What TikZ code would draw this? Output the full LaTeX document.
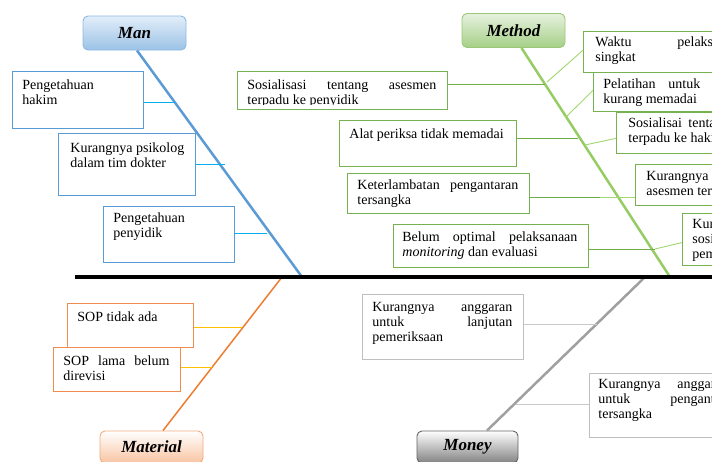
\documentclass[tikz,border=0pt]{standalone}
\usepackage{fontspec}
\setmainfont{Liberation Serif}
\usetikzlibrary{calc}
\definecolor{manC}{RGB}{91,155,213}
\definecolor{manL}{RGB}{0,176,240}
\definecolor{manT}{RGB}{226,238,249}
\definecolor{manBt}{RGB}{155,194,230}
\definecolor{manBd}{RGB}{140,185,228}
\definecolor{metC}{RGB}{150,204,100}
\definecolor{metB}{RGB}{120,178,80}
\definecolor{metL}{RGB}{112,173,71}
\definecolor{metR}{RGB}{160,215,110}
\definecolor{metT}{RGB}{230,242,222}
\definecolor{metBt}{RGB}{165,207,135}
\definecolor{metBd}{RGB}{155,200,120}
\definecolor{matC}{RGB}{237,125,49}
\definecolor{matB}{RGB}{240,140,80}
\definecolor{matL}{RGB}{255,192,0}
\definecolor{matBt}{RGB}{248,196,162}
\definecolor{matBd}{RGB}{244,170,125}
\definecolor{monC}{RGB}{160,160,160}
\definecolor{monB}{RGB}{191,191,191}
\definecolor{monL}{RGB}{200,200,200}
\definecolor{monBt}{RGB}{130,130,130}
\definecolor{monBd}{RGB}{100,100,100}
\newcommand\fs{\fontsize{14pt}{15pt}\selectfont}
\newcommand\tf{\fontsize{17pt}{19pt}\selectfont\bfseries\itshape}
% #1 width, #2 height, #3 first baseline, #4 left pad, #5 content
\newcommand\cbx[5]{\hbox to #1{\hskip#4\parbox[c][#2][t]{\dimexpr#1-#4-11pt\relax}{\fs\baselineskip=15pt\rule{0pt}{#3}#5}\hss}}
\newcommand\jl[1]{\makebox[\linewidth][s]{#1}}
\begin{document}
\begin{tikzpicture}[x=1pt,y=-1pt,
  cause/.style={fill=white,inner sep=0pt,anchor=north west,line width=0.8pt},
  mancause/.style={cause,draw=manC},
  metcause/.style={cause,draw=metB},
  matcause/.style={cause,draw=matB},
  moncause/.style={cause,draw=monB},
  titlebox/.style={rounded corners=5pt,line width=0.9pt,minimum width=103pt,minimum height=34pt,inner sep=0pt,font=\tf},
  manconn/.style={draw=manL,line width=0.9pt},
  metconnL/.style={draw=metL,line width=0.9pt},
  metconnR/.style={draw=metR,line width=0.9pt},
  matconn/.style={draw=matL,line width=0.9pt},
  monconn/.style={draw=monL,line width=0.9pt}]
\useasboundingbox (0,0) rectangle (712,461);

% title boxes
\node[titlebox,draw=manBd,top color=manT,bottom color=manBt] (man) at (134.5,33) {Man};
\node[titlebox,draw=metBd,top color=metT,bottom color=metBt] (met) at (513.5,30.5) {Method};
\node[titlebox,draw=matBd,top color=white,bottom color=matBt,minimum height=32pt] (mat) at (151.5,447) {Material};
\node[titlebox,draw=monBd,top color=white,bottom color=monBt,minimum height=32pt,minimum width=101pt] (mon) at (467.5,447) {Money};

% spine and bone ends
\coordinate (spL) at (75,277);
\coordinate (spR) at (720,277);
\coordinate (manEnd) at (302,277);
\coordinate (metEnd) at (670,277);
\coordinate (matEnd) at (282,277);
\coordinate (monEnd) at (645,277);

% bones
\draw[manC,line width=2.5pt] ([xshift=2.5pt]man.south) -- (manEnd);
\draw[metC,line width=2.5pt] ([xshift=8pt]met.south) -- (metEnd);
\draw[matC,line width=1.5pt] ([xshift=11.5pt]mat.north) -- (matEnd);
\draw[monC,line width=2.5pt] ([xshift=19.5pt]mon.north) -- (monEnd);
\draw[black,line width=4pt] (spL) -- (spR);

% Man causes
\node[mancause] (m1) at (12,71) {\cbx{131pt}{57pt}{18pt}{10pt}{\mbox{Pengetahuan}\\ \mbox{hakim}}};
\node[mancause] (m2) at (58,133) {\cbx{137pt}{62pt}{19pt}{12pt}{\mbox{Kurangnya psikolog}\\ \mbox{dalam tim dokter}}};
\node[mancause] (m3) at (103,206) {\cbx{131pt}{56pt}{16pt}{10pt}{\mbox{Pengetahuan}\\ \mbox{penyidik}}};
\coordinate (a1) at (175,102);
\coordinate (a2) at (225,164);
\coordinate (a3) at (267,233);
\draw[manconn] (m1.east |- a1) -- (a1);
\draw[manconn] (m2.east |- a2) -- (a2);
\draw[manconn] (m3.east |- a3) -- (a3);

% Method causes, left
\begin{scope}
\clip (230,60) rectangle (460,104.5);
\node[metcause] (L1) at (237,71) {\cbx{210pt}{38pt}{18pt}{10pt}{\jl{Sosialisasi tentang asesmen}\\ \mbox{terpadu ke penyidik}}};
\end{scope}
\draw[metB,line width=0.8pt] (L1.south west) rectangle (L1.north east);
\node[metcause] (L2) at (339,120) {\cbx{177pt}{46pt}{18pt}{10pt}{\mbox{Alat periksa tidak memadai}}};
\node[metcause] (L3) at (347,173) {\cbx{182pt}{40pt}{16pt}{10pt}{\jl{Keterlambatan pengantaran}\\ \mbox{tersangka}}};
\node[metcause] (L4) at (393,224) {\cbx{195pt}{43pt}{17pt}{9pt}{\jl{Belum optimal pelaksanaan}\\ \mbox{\textit{monitoring} dan evaluasi}}};
\coordinate (b1) at (545,84);
\coordinate (b2) at (578,138);
\coordinate (b3) at (618,197);
\coordinate (b4) at (655,249);
\draw[metconnL] (L1.east |- b1) -- (b1);
\draw[metconnL] (L2.east |- b2) -- (b2);
\draw[metconnL] (L3.east |- b3) -- (b3);
\draw[metconnL] (L4.east |- b4) -- (b4);

% Method causes, right
\node[metcause] (R1) at (583,31) {\cbx{220pt}{41pt}{15pt}{12pt}{\mbox{\makebox[82pt][l]{Waktu}pelaksanaan asesmen}\\ \mbox{singkat}}};
\node[metcause] (R2) at (593,72) {\cbx{220pt}{39pt}{16pt}{10pt}{\mbox{\makebox[65pt][l]{Pelatihan}\makebox[52pt][l]{untuk}TAT}\\ \mbox{kurang memadai}}};
\node[metcause] (R3) at (616,112) {\cbx{220pt}{41pt}{15pt}{12pt}{\mbox{\makebox[60pt][l]{Sosialisai}tentang asesmen}\\ \mbox{terpadu ke hakim}}};
\node[metcause] (R4) at (635,164) {\cbx{220pt}{41pt}{16pt}{11pt}{\mbox{Kurangnya pemahaman}\\ \mbox{asesmen terpadu}}};
\node[metcause] (R5) at (682,213) {\cbx{220pt}{52pt}{15pt}{10pt}{\mbox{Kurangnya}\\ \mbox{sosialisasi}\\ \mbox{pemahaman}}};
\coordinate (c1) at (547,82);
\coordinate (c2) at (566,117);
\coordinate (c3) at (585,145);
\coordinate (c4) at (600,197);
\coordinate (c5) at (655,249);
\draw[metconnR] ($(R1.north west)!0.46!(R1.south west)$) -- (c1);
\draw[metconnR] ($(R2.north west)!0.46!(R2.south west)$) -- (c2);
\draw[metconnR] ($(R3.north west)!0.63!(R3.south west)$) -- (c3);
\draw[metconnR] (R4.west |- c4) -- (c4);
\draw[metconnR] ($(R5.north west)!0.56!(R5.south west)$) -- (c5);

% Material causes
\node[matcause] (S1) at (67,303) {\cbx{126pt}{44pt}{18pt}{10pt}{\mbox{SOP tidak ada}}};
\node[matcause] (S2) at (53,347) {\cbx{127pt}{44pt}{18pt}{10pt}{\jl{SOP lama belum}\\ \mbox{direvisi}}};
\coordinate (d1) at (242,327);
\coordinate (d2) at (212,367);
\draw[matconn] (S1.east |- d1) -- (d1);
\draw[matconn] (S2.east |- d2) -- (d2);

% Money causes
\node[moncause] (N1) at (362,294) {\cbx{161pt}{65pt}{17pt}{10pt}{\jl{Kurangnya anggaran}\\ \jl{untuk lanjutan}\\ \mbox{pemeriksaan}}};
\node[moncause] (N2) at (589,373) {\cbx{220pt}{64pt}{15pt}{9pt}{\mbox{\makebox[79pt][l]{Kurangnya}anggaran}\\ \mbox{\makebox[72pt][l]{untuk}pengantaran}\\ \mbox{tersangka}}};
\coordinate (e1) at (597,324);
\coordinate (e2) at (516,404);
\draw[monconn] (N1.east |- e1) -- (e1);
\draw[monconn] (N2.west |- e2) -- (e2);
\end{tikzpicture}
\end{document}
